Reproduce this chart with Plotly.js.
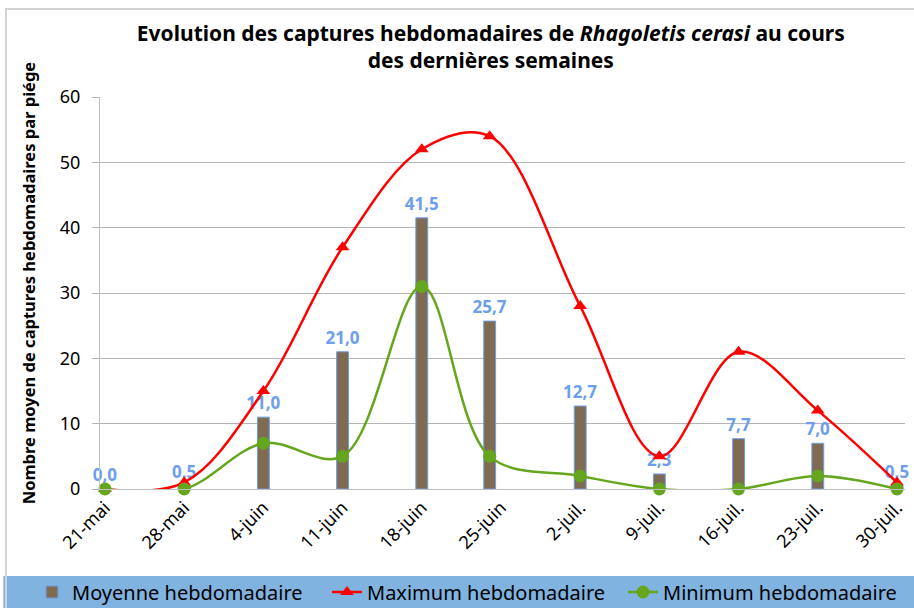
<!DOCTYPE html>
<html>
<head>
<meta charset="utf-8">
<script src="https://cdn.plot.ly/plotly-3.0.1.min.js"></script>
<style>
  html, body { margin: 0; padding: 0; background: #ffffff; }
  #wrap { position: relative; width: 914px; height: 608px; }
  #chart { position: absolute; left: 0; top: 0; width: 914px; height: 608px; }
  #frame { position: absolute; left: 5px; top: 8px; width: 920px; height: 620px;
           border-left: 2px solid #d4d4d4; border-top: 2px solid #d4d4d4; pointer-events: none; }
</style>
</head>
<body>
<div id="wrap">
  <div id="chart"></div>
  <div id="frame"></div>
</div>
<script>
// Sampling dates of each weekly capture (the 25-juin sample was read on the 24th)
const dates = ["2023-05-21", "2023-05-28", "2023-06-04", "2023-06-11", "2023-06-18", "2023-06-24",
               "2023-07-02", "2023-07-09", "2023-07-16", "2023-07-23", "2023-07-30"];
// Weekly tick positions and their labels
const tickDates = ["2023-05-21", "2023-05-28", "2023-06-04", "2023-06-11", "2023-06-18", "2023-06-25",
                   "2023-07-02", "2023-07-09", "2023-07-16", "2023-07-23", "2023-07-30"];
const tickLabels = ["21-mai", "28-mai", "4-juin", "11-juin", "18-juin", "25-juin",
                    "2-juil.", "9-juil.", "16-juil.", "23-juil.", "30-juil."];
const moyenne = [0.0, 0.5, 11.0, 21.0, 41.5, 25.7, 12.7, 2.3, 7.7, 7.0, 0.5];
const maximum = [0, 1, 15, 37, 52, 54, 28, 5, 21, 12, 1];
const minimum = [0, 0, 7, 5, 31, 5, 2, 0, 0, 2, 0];

const FONT = "Noto Sans, DejaVu Sans, sans-serif";
const DAY = 86400000;

const traces = [
  {
    type: "bar",
    name: "Moyenne hebdomadaire",
    legend: "legend",
    x: dates,
    y: moyenne,
    width: 1.05 * DAY,
    marker: { color: "#7f6a52", line: { color: "#6d9eeb", width: 1 } },
    texttemplate: "%{y:.1f}",
    textposition: "outside",
    constraintext: "none",
    textfont: { color: "#6d9eeb", size: 17, family: FONT, weight: "bold" },
    cliponaxis: false,
    hoverinfo: "skip"
  },
  {
    type: "scatter",
    mode: "lines+markers",
    name: "Maximum hebdomadaire",
    legend: "legend2",
    x: dates,
    y: maximum,
    line: { color: "#ff0000", width: 2.5, shape: "spline", smoothing: 1 },
    marker: { symbol: "triangle-up", size: 12, color: "#ff0000" },
    cliponaxis: false
  },
  {
    type: "scatter",
    mode: "lines+markers",
    name: "Minimum hebdomadaire",
    legend: "legend3",
    x: dates,
    y: minimum,
    line: { color: "#66a61e", width: 2.5, shape: "spline", smoothing: 1 },
    marker: { symbol: "circle", size: 13, color: "#66a61e" },
    cliponaxis: false
  }
];

function legendAt(xpx) {
  return {
    orientation: "h",
    xref: "container", yref: "container",
    x: xpx / 914, xanchor: "left",
    y: 16 / 608, yanchor: "middle",
    bgcolor: "rgba(0,0,0,0)",
    font: { family: FONT, size: 20, color: "#000000" }
  };
}

const layout = {
  width: 914,
  height: 608,
  margin: { l: 100, r: 9, t: 97, b: 119 },
  paper_bgcolor: "rgba(0,0,0,0)",
  plot_bgcolor: "rgba(0,0,0,0)",
  separators: ", ",
  font: { family: FONT, color: "#000000" },
  title: {
    text: "<b>Evolution des captures hebdomadaires de <i>Rhagoletis cerasi</i> au cours<br>des dernières semaines</b>",
    font: { family: FONT, size: 21, color: "#000000" },
    x: 0.537, xref: "container", xanchor: "center",
    y: 0.933, yref: "container", yanchor: "middle"
  },
  xaxis: {
    type: "date",
    range: ["2023-05-20 13:25", "2023-07-30 17:00"],
    tickmode: "array",
    tickvals: tickDates,
    ticktext: tickLabels,
    tickangle: -45,
    tickfont: { family: FONT, size: 18, color: "#000000" },
    showline: true, linecolor: "#bfbfbf", linewidth: 1,
    showgrid: false, zeroline: false, ticks: ""
  },
  yaxis: {
    range: [0, 60],
    tickvals: [0, 10, 20, 30, 40, 50, 60],
    tickfont: { family: FONT, size: 18, color: "#000000" },
    ticklabelstandoff: 8,
    showgrid: true, gridcolor: "#b4b4b4", gridwidth: 1,
    showline: true, linecolor: "#bfbfbf", linewidth: 1,
    ticks: "outside", ticklen: 7, tickcolor: "#b4b4b4",
    zeroline: false
  },
  showlegend: true,
  legend: legendAt(32),
  legend2: legendAt(327),
  legend3: legendAt(623),
  shapes: [
    {
      type: "rect", xref: "paper", yref: "paper", layer: "below",
      x0: -0.12, x1: 1.02, y0: -0.222, y1: -0.31,
      fillcolor: "#80b3e0", line: { width: 0 }
    }
  ],
  annotations: [
    {
      text: "<b>Nombre moyen de captures hebdomadaires par piége</b>",
      textangle: -90,
      xref: "paper", yref: "paper",
      x: -0.0894, y: 0.525,
      xanchor: "center", yanchor: "middle",
      showarrow: false,
      font: { family: FONT, size: 16.5, color: "#000000" }
    }
  ]
};

Plotly.newPlot("chart", traces, layout, { displayModeBar: false, staticPlot: true });
</script>
</body>
</html>
